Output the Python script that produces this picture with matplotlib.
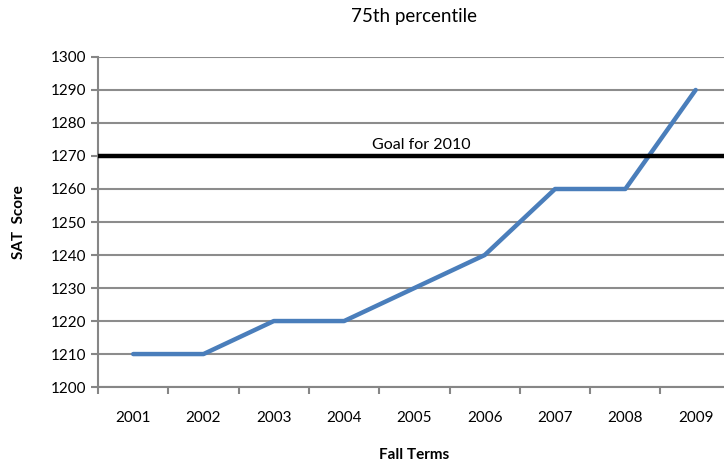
import matplotlib.pyplot as plt

plt.rcParams['font.family'] = ['Lato', 'DejaVu Sans']

years = ["2001", "2002", "2003", "2004", "2005", "2006", "2007", "2008", "2009"]
sat_75th = [1210, 1210, 1220, 1220, 1230, 1240, 1260, 1260, 1290]
goal_2010 = 1270

fig = plt.figure(figsize=(7.24, 4.63), dpi=100)
ax = fig.add_axes([0.1354, 0.164, 0.874, 0.713])

x = range(len(years))
ax.plot(x, sat_75th, color="#4a7ebb", linewidth=3.2, solid_capstyle="round", zorder=3)
ax.axhline(goal_2010, color="black", linewidth=3.2, zorder=4)
ax.text(4.1, goal_2010 + 1.2, "Goal for 2010", ha="center", va="bottom", fontsize=11.5)

ax.set_xlim(-0.5, len(years) - 0.5)
ax.set_ylim(1200, 1300)
ax.set_yticks(range(1200, 1301, 10))
ax.set_xticks(x)
ax.set_xticklabels(years)
ax.set_xticks([i + 0.5 for i in range(-1, len(years))], minor=True)
ax.tick_params(axis="x", which="major", length=0, pad=17, labelsize=11)
ax.tick_params(axis="x", which="minor", length=5, width=1.5, color="#868686")
ax.tick_params(axis="y", length=5, width=1.5, color="#868686", labelsize=11)

ax.grid(axis="y", color="#8c8c8c", linewidth=1.5, zorder=0)
for side in ["top", "right"]:
    ax.spines[side].set_visible(False)
for side in ["left", "bottom"]:
    ax.spines[side].set_color("#868686")
    ax.spines[side].set_linewidth(1.5)

ax.set_title("75th percentile", fontsize=13.5, pad=25)
ax.set_ylabel("SAT  Score", fontsize=11, fontweight="bold", labelpad=18)
ax.set_xlabel("Fall Terms", fontsize=11, fontweight="bold", labelpad=17)

fig.savefig("out.png", dpi=100)
